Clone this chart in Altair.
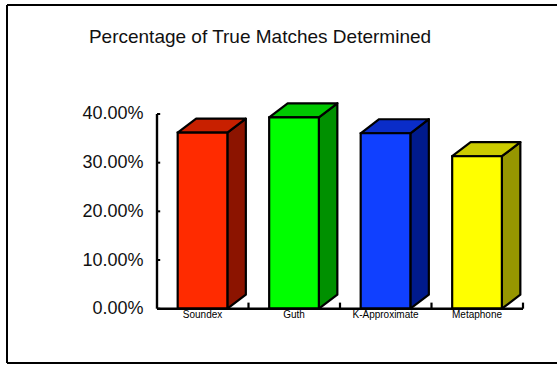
import altair as alt
import pandas as pd

# ---- data ----
categories = ["Soundex", "Guth", "K-Approximate", "Metaphone"]
values = [0.3616, 0.3932, 0.3604, 0.3132]
front_colors = ["#FF2B00", "#00FF00", "#1040FF", "#FFFF00"]
top_colors = ["#C82000", "#00C800", "#0A2DC8", "#CCCC00"]
side_colors = ["#8C1400", "#009000", "#001A8C", "#969600"]
y_ticks = [0.0, 0.1, 0.2, 0.3, 0.4]
title_text = "Percentage of True Matches Determined"

# ---- style / layout constants (in data units of the scales) ----
BAR_LEFT = 0.226
BAR_W = 0.543
DEPTH_X = 0.202
DEPTH_Y = 0.0288
CAT_TICK = 0.0125
Y_TICK = 0.035
OUTLINE = 2.2
FONT = "Liberation Sans"
X_DOMAIN = [-1.6393, 4.3716]
Y_DOMAIN = [-0.11156, 0.6239]

front_rows, top_rows, side_rows = [], [], []
for i, (c, v) in enumerate(zip(categories, values)):
    xl = i + BAR_LEFT
    xr = xl + BAR_W
    front_rows.append(dict(cat=c, x=xl, x2=xr, y=0.0, y2=v, fill=front_colors[i], lx=(xl + xr) / 2))
    top_rows.append(dict(cat=c, y=v, x=xl, x2=xr, fill=top_colors[i]))
    top_rows.append(dict(cat=c, y=v + DEPTH_Y, x=xl + DEPTH_X, x2=xr + DEPTH_X, fill=top_colors[i]))
    side_rows.append(dict(cat=c, x=xr, y=v, y2=0.0, fill=side_colors[i]))
    side_rows.append(dict(cat=c, x=xr + DEPTH_X, y=v + DEPTH_Y, y2=DEPTH_Y, fill=side_colors[i]))

front_df = pd.DataFrame(front_rows)
top_df = pd.DataFrame(top_rows)
side_df = pd.DataFrame(side_rows)

n = len(categories)
axis_df = pd.DataFrame([dict(x=0.0, y=0.0, y2=max(y_ticks))])
base_df = pd.DataFrame([dict(x=0.0, x2=float(n), y=0.0)])
cat_tick_df = pd.DataFrame([dict(x=float(k), y=0.0, y2=CAT_TICK) for k in range(1, n + 1)])
y_tick_df = pd.DataFrame([dict(x=0.0, x2=Y_TICK, y=t) for t in y_ticks])
# outer frame: left, top and bottom edges of the plotting rectangle
frame_v_df = pd.DataFrame([dict(x=X_DOMAIN[0], y=Y_DOMAIN[0], y2=Y_DOMAIN[1])])
frame_h_df = pd.DataFrame([dict(x=X_DOMAIN[0], x2=X_DOMAIN[1], y=Y_DOMAIN[0]),
                           dict(x=X_DOMAIN[0], x2=X_DOMAIN[1], y=Y_DOMAIN[1])])

xs = alt.Scale(domain=X_DOMAIN, nice=False, zero=False)
ys = alt.Scale(domain=Y_DOMAIN, nice=False, zero=False)
yax = alt.Axis(values=y_ticks, format=".2%", title=None, domain=False, ticks=False, grid=False,
               offset=-150, labelPadding=14, labelFontSize=18, labelFont=FONT, labelColor="#111111")

side = alt.Chart(side_df).mark_area(stroke="black", strokeWidth=OUTLINE, strokeJoin="round").encode(
    x=alt.X("x:Q", scale=xs, axis=None),
    y=alt.Y("y:Q", scale=ys, axis=yax, stack=None),
    y2="y2:Q",
    detail="cat:N",
    fill=alt.Fill("fill:N", scale=None),
)

top = alt.Chart(top_df).mark_area(orient="horizontal", stroke="black", strokeWidth=OUTLINE, strokeJoin="round").encode(
    y=alt.Y("y:Q", scale=ys, axis=yax),
    x=alt.X("x:Q", scale=xs, axis=None, stack=None),
    x2="x2:Q",
    detail="cat:N",
    fill=alt.Fill("fill:N", scale=None),
)

front = alt.Chart(front_df).mark_rect(stroke="black", strokeWidth=OUTLINE).encode(
    x=alt.X("x:Q", scale=xs, axis=None),
    x2="x2:Q",
    y=alt.Y("y:Q", scale=ys, axis=yax),
    y2="y2:Q",
    fill=alt.Fill("fill:N", scale=None),
)

labels = alt.Chart(front_df).mark_text(baseline="top", dy=1, fontSize=10, font=FONT, color="black").encode(
    x=alt.X("lx:Q", scale=xs, axis=None),
    y=alt.Y("y:Q", scale=ys, axis=yax),
    text="cat:N",
)

axis_line = alt.Chart(axis_df).mark_rule(color="black", strokeWidth=2.4).encode(
    x=alt.X("x:Q", scale=xs, axis=None),
    y=alt.Y("y:Q", scale=ys, axis=yax),
    y2="y2:Q",
)
base_line = alt.Chart(base_df).mark_rule(color="black", strokeWidth=2.6).encode(
    x=alt.X("x:Q", scale=xs, axis=None),
    x2="x2:Q",
    y=alt.Y("y:Q", scale=ys, axis=yax),
)
cat_ticks = alt.Chart(cat_tick_df).mark_rule(color="black", strokeWidth=2.2).encode(
    x=alt.X("x:Q", scale=xs, axis=None),
    y=alt.Y("y:Q", scale=ys, axis=yax),
    y2="y2:Q",
)
y_tick_marks = alt.Chart(y_tick_df).mark_rule(color="black", strokeWidth=2).encode(
    x=alt.X("x:Q", scale=xs, axis=None),
    x2="x2:Q",
    y=alt.Y("y:Q", scale=ys, axis=yax),
)
frame_v = alt.Chart(frame_v_df).mark_rule(color="black", strokeWidth=2).encode(
    x=alt.X("x:Q", scale=xs, axis=None),
    y=alt.Y("y:Q", scale=ys, axis=yax),
    y2="y2:Q",
)
frame_h = alt.Chart(frame_h_df).mark_rule(color="black", strokeWidth=2).encode(
    x=alt.X("x:Q", scale=xs, axis=None),
    x2="x2:Q",
    y=alt.Y("y:Q", scale=ys, axis=yax),
)

chart = alt.layer(
    frame_v, frame_h, y_tick_marks, cat_ticks, side, top, front, base_line, axis_line, labels
).properties(
    width=550,
    height=358,
    autosize=alt.AutoSizeParams(type="none"),
    padding={"left": 7, "top": 5, "right": 0, "bottom": 1},
    background="white",
    title=alt.TitleParams(
        text=title_text, anchor="middle", frame="group", offset=-58, dx=-22,
        baseline="alphabetic", fontSize=19, font=FONT, fontWeight="normal", color="#111111",
    ),
).configure_view(stroke="transparent", strokeWidth=0, fill="white")

chart.save("out.html", embed_options={"renderer": "svg", "actions": False})
